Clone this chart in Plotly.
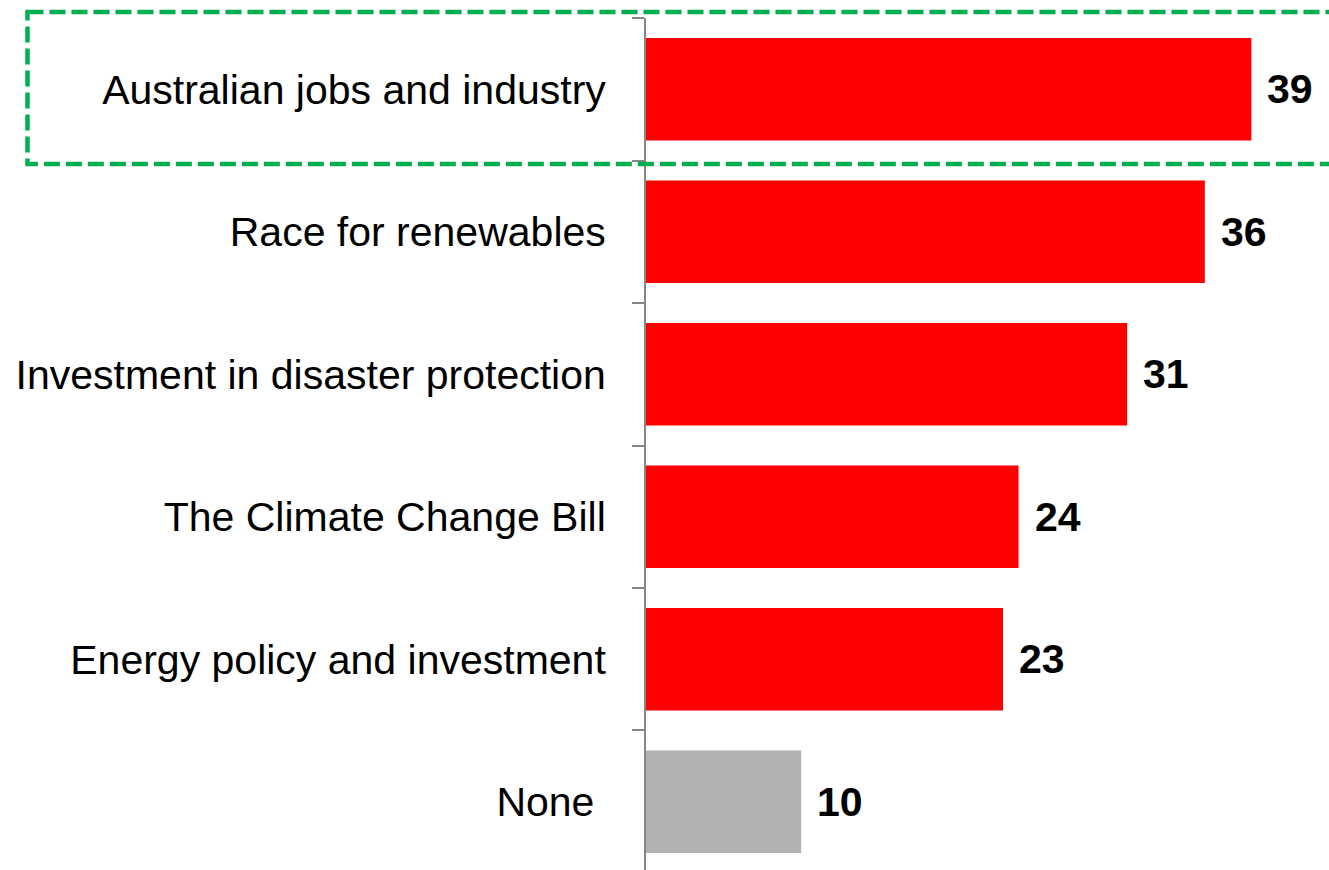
import plotly.graph_objects as go

# Survey responses: share of respondents (%) by issue
categories = [
    "Australian jobs and industry",
    "Race for renewables",
    "Investment in disaster protection",
    "The Climate Change Bill",
    "Energy policy and investment",
    "None\u00a0",
]
values = [39, 36, 31, 24, 23, 10]
bar_colors = ["#FF0000", "#FF0000", "#FF0000", "#FF0000", "#FF0000", "#B2B2B2"]
highlight_index = 0  # row outlined with the dashed box

FONT = "Liberation Sans, Arial, sans-serif"
W, H = 1329, 870
M_L, M_T = 646, 18
x_max = 44
y_top, y_bottom = -0.5, 5.479  # category axis range (reversed)

fig = go.Figure(
    go.Bar(
        x=values,
        y=categories,
        orientation="h",
        marker=dict(color=bar_colors, line=dict(width=0)),
        hoverinfo="skip",
    )
)

# Value labels to the right of each bar
for cat, v in zip(categories, values):
    fig.add_annotation(
        x=v, y=cat, xref="x", yref="y",
        text=f"<b>{v}</b>",
        showarrow=False, xanchor="left", yanchor="middle",
        xshift=14,
        font=dict(family=FONT, size=41, color="#000000"),
    )

# Dashed highlight box around the first row, in paper coordinates
span = y_bottom - y_top
def to_paper(v):
    return 1 - (v - y_top) / span

fig.add_shape(
    type="rect", xref="paper", yref="paper",
    x0=(27.5 - M_L) / (W - M_L), x1=1.02,
    y0=to_paper(highlight_index - 0.542), y1=to_paper(highlight_index + 0.525),
    line=dict(color="#00B050", width=4.5, dash="16px,6px"),
    fillcolor="rgba(0,0,0,0)",
    layer="above",
)

fig.update_layout(
    width=W, height=H,
    margin=dict(l=M_L, r=0, t=M_T, b=0, pad=0),
    paper_bgcolor="white", plot_bgcolor="white",
    bargap=0.28,
    showlegend=False,
    font=dict(family=FONT, size=41, color="#000000"),
    xaxis=dict(
        range=[0, x_max], visible=False, showgrid=False, zeroline=False,
    ),
    yaxis=dict(
        type="category",
        range=[y_bottom, y_top],
        showline=True, linecolor="#868686", linewidth=2,
        ticks="outside", tickson="boundaries", ticklen=12, tickwidth=2,
        tickcolor="#868686",
        ticklabelstandoff=30,
        tickfont=dict(family=FONT, size=41, color="#000000"),
        showgrid=False, zeroline=False,
    ),
)

fig.write_html("out.html")
